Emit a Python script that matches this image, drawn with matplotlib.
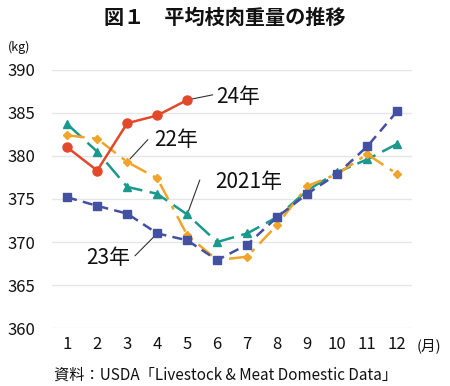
import matplotlib
matplotlib.use("Agg")
import matplotlib.pyplot as plt

plt.rcParams['font.family'] = ['Noto Sans CJK JP', 'DejaVu Sans']

months = list(range(1, 13))
month_labels = [str(m) for m in months]
y_ticks = [360, 365, 370, 375, 380, 385, 390]

y2021 = [383.7, 380.5, 376.4, 375.6, 373.2, 370.0, 371.0, 372.9, 376.0, 378.1, 379.6, 381.4]
y2022 = [382.4, 382.0, 379.3, 377.4, 370.8, 367.9, 368.3, 372.0, 376.5, 377.9, 380.2, 377.9]
y2023 = [375.2, 374.2, 373.3, 371.0, 370.2, 367.9, 369.7, 372.9, 375.6, 377.9, 381.1, 385.2]
y2024 = [381.0, 378.3, 383.8, 384.7, 386.5]

fig = plt.figure(figsize=(4.5, 3.86), dpi=100)
ax = fig.add_axes([0.116, 0.150, 0.800, 0.669])

c21, c22, c23, c24 = '#1a998c', '#f0a428', '#4450a0', '#e2492a'

ax.plot(months, y2021, color=c21, lw=1.8, dashes=(8, 3), marker='^', ms=6, zorder=3)
ax.plot(months, y2022, color=c22, lw=1.8, dashes=(7, 3, 1.5, 3), marker='D', ms=4.5, zorder=3)
ax.plot(months, y2023, color=c23, lw=1.8, dashes=(4, 2.5), marker='s', ms=6, zorder=4)
ax.plot(months[:5], y2024, color=c24, lw=1.8, marker='o', ms=6.5, zorder=5)

ax.set_xlim(0.5, 12.5)
ax.set_ylim(360, 390)
ax.set_yticks(y_ticks)
ax.set_xticks(months)
ax.set_xticklabels(month_labels)
ax.grid(axis='y', color='#e6e6e6', lw=1)
ax.set_axisbelow(True)
for s in ax.spines.values():
    s.set_visible(False)
ax.tick_params(length=0, labelsize=12, colors='#111111')
ax.tick_params(axis='y', pad=12)
ax.tick_params(axis='x', pad=6)

ann = dict(fontsize=15, color='#111111')
line = dict(arrowstyle='-', color='#333333', lw=0.8, shrinkA=0, shrinkB=3)


def label(text, pt, end, pos, ha):
    ax.annotate('', xy=pt, xytext=end, arrowprops=line)
    ax.text(pos[0], pos[1], text, ha=ha, va='center', **ann)


label('24年', (5, y2024[4]), (5.85, 387.1), (5.98, 386.9), 'left')
label('22年', (3, y2022[2]), (3.69, 381.9), (3.9, 381.9), 'left')
label('2021年', (5, y2021[4]), (5.42, 377.2), (5.95, 377.0), 'left')
label('23年', (4, y2023[3]), (3.26, 368.4), (3.1, 368.1), 'right')

fig.text(0.5, 0.955, '図１　平均枝肉重量の推移', ha='center', va='center', fontsize=14.5, fontweight='bold', color='#111111')
fig.text(0.018, 0.878, '(kg)', ha='left', va='center', fontsize=9, color='#111111')
fig.text(0.925, 0.105, '(月)', ha='left', va='center', fontsize=10.5, color='#111111')
fig.text(0.12, 0.028, '資料：USDA「Livestock & Meat Domestic Data」', ha='left', va='center', fontsize=11, color='#111111')

fig.savefig('out.png', dpi=100)
